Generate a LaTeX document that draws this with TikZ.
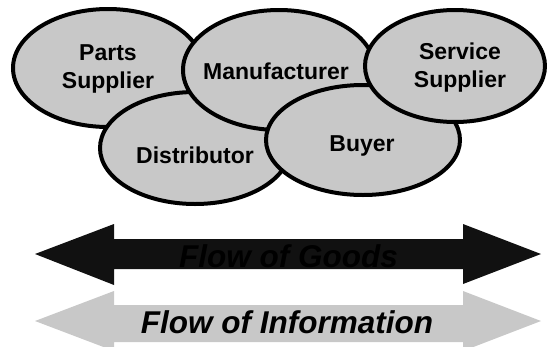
\documentclass[tikz,border=0pt]{standalone}
\usepackage{fontspec}
\setmainfont{Liberation Sans}
\usetikzlibrary{shapes.geometric}
\definecolor{lightgrey}{RGB}{200,200,200}
\definecolor{darkbar}{RGB}{17,17,17}
\tikzset{
  party/.style={ellipse, draw=black, fill=lightgrey, line width=4pt, inner sep=0pt},
  partytext/.style={align=center, font=\fontsize{23}{28}\selectfont\bfseries, text=black},
  flowtext/.style={font=\fontsize{31.5}{36}\selectfont\bfseries\itshape, text=black, inner sep=0pt}
}
\begin{document}
\begin{tikzpicture}[x=1pt,y=-1pt]
\useasboundingbox (0,0) rectangle (547,346);
% ellipses in stacking order
\node[party, minimum width=190pt, minimum height=118pt] (ps) at (108,68) {};
\node[party, minimum width=190pt, minimum height=112pt] (dist) at (195,148) {};
\node[party, minimum width=192pt, minimum height=120pt] (manu) at (279,70) {};
\node[party, minimum width=194pt, minimum height=110pt] (buyer) at (363,140) {};
\node[party, minimum width=180pt, minimum height=112pt] (ss) at (455,66) {};
\node[partytext] (pst) at (108,69) {Parts\\Supplier};
\node[partytext] (distt) at (195,155) {Distributor};
\node[partytext] (manut) at (276,71) {Manufacturer};
\node[partytext] (buyert) at (362,146) {Buyer};
\node[partytext] (sst) at (460,68) {Service\\Supplier};
% flow arrows
\fill[darkbar] (35,254) -- (114,224) -- (114,239) -- (463,239) -- (463,224) -- (541,254)
  -- (463,284) -- (463,269) -- (114,269) -- (114,285) -- cycle;
\node[flowtext, anchor=base] (goods) at (288.5,267) {Flow of Goods};
\fill[lightgrey] (35,321) -- (114,291) -- (114,305) -- (463,305) -- (463,291) -- (541,321)
  -- (463,351) -- (463,342) -- (114,342) -- (114,351) -- cycle;
\node[flowtext, anchor=base] (info) at (287,333) {Flow of Information};
\end{tikzpicture}
\end{document}
